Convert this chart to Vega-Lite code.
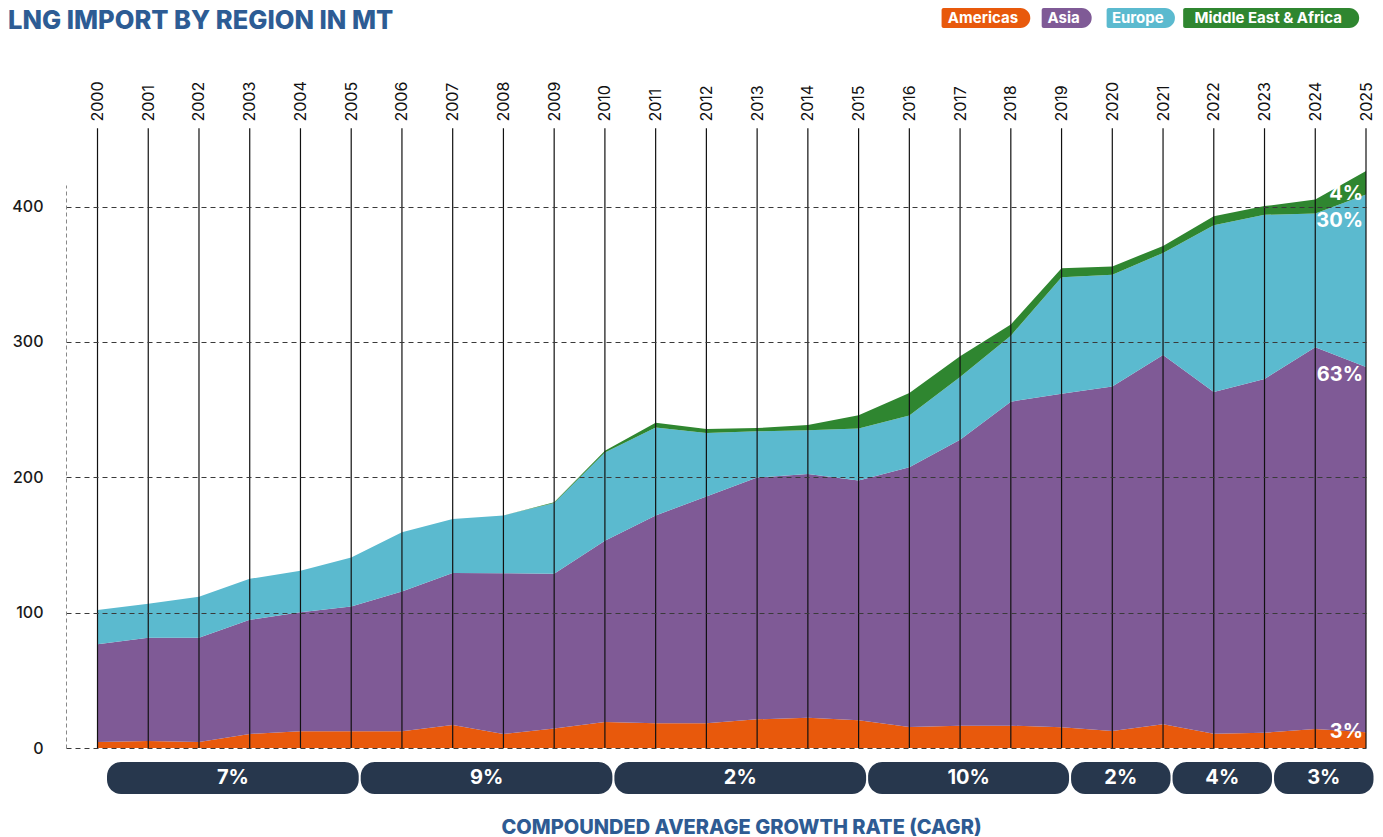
{
  "$schema": "https://vega.github.io/schema/vega-lite/v6.json",
  "background": "white",
  "padding": {"left": 8, "top": 8, "right": 10, "bottom": 0},
  "title": {"text": "LNG IMPORT BY REGION IN MT", "anchor": "start", "frame": "group", "font": "Inter", "fontSize": 25.5, "fontWeight": 800, "color": "#2D5C94", "dx": -58, "dy": 26, "offset": 0},
  "config": {"view": {"stroke": null}, "font": "Inter", "axis": {"labelFont": "Inter", "titleFont": "Inter"}, "text": {"font": "Inter"}},
  "datasets": {
    "lng": [
      {"year": 2000, "region": "Americas", "value": 4.5}, {"year": 2000, "region": "Asia", "value": 72.2}, {"year": 2000, "region": "Europe", "value": 25.3}, {"year": 2000, "region": "Middle East & Africa", "value": 0},
      {"year": 2001, "region": "Americas", "value": 5.2}, {"year": 2001, "region": "Asia", "value": 76.2}, {"year": 2001, "region": "Europe", "value": 25.1}, {"year": 2001, "region": "Middle East & Africa", "value": 0},
      {"year": 2002, "region": "Americas", "value": 4.5}, {"year": 2002, "region": "Asia", "value": 76.9}, {"year": 2002, "region": "Europe", "value": 30.3}, {"year": 2002, "region": "Middle East & Africa", "value": 0},
      {"year": 2003, "region": "Americas", "value": 10.4}, {"year": 2003, "region": "Asia", "value": 84.3}, {"year": 2003, "region": "Europe", "value": 30.3}, {"year": 2003, "region": "Middle East & Africa", "value": 0},
      {"year": 2004, "region": "Americas", "value": 12.3}, {"year": 2004, "region": "Asia", "value": 88.0}, {"year": 2004, "region": "Europe", "value": 30.7}, {"year": 2004, "region": "Middle East & Africa", "value": 0},
      {"year": 2005, "region": "Americas", "value": 12.3}, {"year": 2005, "region": "Asia", "value": 92.2}, {"year": 2005, "region": "Europe", "value": 36.2}, {"year": 2005, "region": "Middle East & Africa", "value": 0},
      {"year": 2006, "region": "Americas", "value": 12.3}, {"year": 2006, "region": "Asia", "value": 103.3}, {"year": 2006, "region": "Europe", "value": 43.9}, {"year": 2006, "region": "Middle East & Africa", "value": 0},
      {"year": 2007, "region": "Americas", "value": 17.0}, {"year": 2007, "region": "Asia", "value": 112.4}, {"year": 2007, "region": "Europe", "value": 39.9}, {"year": 2007, "region": "Middle East & Africa", "value": 0},
      {"year": 2008, "region": "Americas", "value": 10.4}, {"year": 2008, "region": "Asia", "value": 118.8}, {"year": 2008, "region": "Europe", "value": 42.6}, {"year": 2008, "region": "Middle East & Africa", "value": 0},
      {"year": 2009, "region": "Americas", "value": 14.5}, {"year": 2009, "region": "Asia", "value": 114.2}, {"year": 2009, "region": "Europe", "value": 52.3}, {"year": 2009, "region": "Middle East & Africa", "value": 0.5},
      {"year": 2010, "region": "Americas", "value": 19.3}, {"year": 2010, "region": "Asia", "value": 133.9}, {"year": 2010, "region": "Europe", "value": 65.2}, {"year": 2010, "region": "Middle East & Africa", "value": 1.3},
      {"year": 2011, "region": "Americas", "value": 18.2}, {"year": 2011, "region": "Asia", "value": 153.6}, {"year": 2011, "region": "Europe", "value": 65.1}, {"year": 2011, "region": "Middle East & Africa", "value": 3.5},
      {"year": 2012, "region": "Americas", "value": 18.2}, {"year": 2012, "region": "Asia", "value": 167.7}, {"year": 2012, "region": "Europe", "value": 46.8}, {"year": 2012, "region": "Middle East & Africa", "value": 3.0},
      {"year": 2013, "region": "Americas", "value": 21.2}, {"year": 2013, "region": "Asia", "value": 178.7}, {"year": 2013, "region": "Europe", "value": 34.1}, {"year": 2013, "region": "Middle East & Africa", "value": 2.4},
      {"year": 2014, "region": "Americas", "value": 22.4}, {"year": 2014, "region": "Asia", "value": 180.0}, {"year": 2014, "region": "Europe", "value": 32.3}, {"year": 2014, "region": "Middle East & Africa", "value": 3.9},
      {"year": 2015, "region": "Americas", "value": 20.5}, {"year": 2015, "region": "Asia", "value": 177.2}, {"year": 2015, "region": "Europe", "value": 38.3}, {"year": 2015, "region": "Middle East & Africa", "value": 9.8},
      {"year": 2016, "region": "Americas", "value": 15.5}, {"year": 2016, "region": "Asia", "value": 192.0}, {"year": 2016, "region": "Europe", "value": 38.2}, {"year": 2016, "region": "Middle East & Africa", "value": 16.6},
      {"year": 2017, "region": "Americas", "value": 16.5}, {"year": 2017, "region": "Asia", "value": 211.3}, {"year": 2017, "region": "Europe", "value": 46.3}, {"year": 2017, "region": "Middle East & Africa", "value": 15.3},
      {"year": 2018, "region": "Americas", "value": 16.5}, {"year": 2018, "region": "Asia", "value": 239.4}, {"year": 2018, "region": "Europe", "value": 48.8}, {"year": 2018, "region": "Middle East & Africa", "value": 8.2},
      {"year": 2019, "region": "Americas", "value": 15.3}, {"year": 2019, "region": "Asia", "value": 246.5}, {"year": 2019, "region": "Europe", "value": 86.1}, {"year": 2019, "region": "Middle East & Africa", "value": 6.6},
      {"year": 2020, "region": "Americas", "value": 12.6}, {"year": 2020, "region": "Asia", "value": 254.6}, {"year": 2020, "region": "Europe", "value": 82.4}, {"year": 2020, "region": "Middle East & Africa", "value": 6.2},
      {"year": 2021, "region": "Americas", "value": 17.5}, {"year": 2021, "region": "Asia", "value": 272.9}, {"year": 2021, "region": "Europe", "value": 75.4}, {"year": 2021, "region": "Middle East & Africa", "value": 5.2},
      {"year": 2022, "region": "Americas", "value": 10.6}, {"year": 2022, "region": "Asia", "value": 252.5}, {"year": 2022, "region": "Europe", "value": 123.2}, {"year": 2022, "region": "Middle East & Africa", "value": 6.7},
      {"year": 2023, "region": "Americas", "value": 11.3}, {"year": 2023, "region": "Asia", "value": 261.4}, {"year": 2023, "region": "Europe", "value": 121.3}, {"year": 2023, "region": "Middle East & Africa", "value": 6.4},
      {"year": 2024, "region": "Americas", "value": 14.0}, {"year": 2024, "region": "Asia", "value": 282.1}, {"year": 2024, "region": "Europe", "value": 98.9}, {"year": 2024, "region": "Middle East & Africa", "value": 10.3},
      {"year": 2025, "region": "Americas", "value": 11.6}, {"year": 2025, "region": "Asia", "value": 270.0}, {"year": 2025, "region": "Europe", "value": 127.4}, {"year": 2025, "region": "Middle East & Africa", "value": 17.3}
    ],
    "cagr": [
      {"start": 2000, "end": 2005, "cagr": "7%"},
      {"start": 2005, "end": 2010, "cagr": "9%"},
      {"start": 2010, "end": 2015, "cagr": "2%"},
      {"start": 2015, "end": 2019, "cagr": "10%"},
      {"start": 2019, "end": 2021, "cagr": "2%"},
      {"start": 2021, "end": 2023, "cagr": "4%"},
      {"start": 2023, "end": 2025, "cagr": "3%"}
    ],
    "legend": [
      {"region": "Americas", "order": 1},
      {"region": "Asia", "order": 2},
      {"region": "Europe", "order": 3},
      {"region": "Middle East & Africa", "order": 4}
    ]
  },
  "bounds": "flush",
  "spacing": 157,
  "vconcat": [
    {
      "width": 1300,
      "height": 20,
      "data": {"name": "legend"},
      "layer": [
        {
          "mark": {"type": "bar", "orient": "vertical", "cornerRadiusTopRight": 10, "cornerRadiusBottomRight": 10, "cornerRadiusTopLeft": 2, "cornerRadiusBottomLeft": 2},
          "encoding": {
            "x": {"field": "order", "type": "quantitative", "scale": {"domain": [1, 2, 3, 4], "range": [915.7, 1000.7, 1074.8, 1212], "nice": false, "zero": false}, "axis": null},
            "size": {"field": "order", "type": "quantitative", "scale": {"domain": [1, 2, 3, 4], "range": [88.7, 50, 68.3, 176], "zero": false}, "legend": null},
            "y": {"datum": 0, "type": "quantitative", "scale": {"domain": [0, 1]}, "axis": null},
            "y2": {"datum": 1},
            "color": {"field": "region", "type": "nominal", "scale": {"domain": ["Americas", "Asia", "Europe", "Middle East & Africa"], "range": ["#E8590C", "#7F5A96", "#5BBACF", "#2F8630"]}, "legend": null}
          }
        },
        {
          "mark": {"type": "text", "color": "white", "fontSize": 15, "fontWeight": 700, "align": "center", "baseline": "middle", "dx": -3},
          "encoding": {
            "x": {"field": "order", "type": "quantitative", "scale": {"domain": [1, 2, 3, 4], "range": [915.7, 1000.7, 1074.8, 1212], "nice": false, "zero": false}, "axis": null},
            "y": {"datum": 0.5, "type": "quantitative", "scale": {"domain": [0, 1]}, "axis": null},
            "text": {"field": "region", "type": "nominal"}
          }
        }
      ]
    },
    {
      "bounds": "flush",
      "spacing": 14,
      "vconcat": [
        {
          "width": 1300,
          "height": 563,
          "resolve": {"axis": {"x": "independent", "y": "independent"}},
          "layer": [
            {
              "data": {"name": "lng"},
              "mark": {"type": "area", "interpolate": "linear"},
              "encoding": {
                "x": {"field": "year", "type": "quantitative", "scale": {"domain": [1999.379, 2025], "nice": false, "zero": false},
                  "axis": {"orient": "top", "values": [2000, 2001, 2002, 2003, 2004, 2005, 2006, 2007, 2008, 2009, 2010, 2011, 2012, 2013, 2014, 2015, 2016, 2017, 2018, 2019, 2020, 2021, 2022, 2023, 2024, 2025], "format": "d", "labelAngle": -90, "ticks": false, "tickSize": 0, "domain": false, "grid": false, "labelPadding": 64, "labelFontSize": 16, "labelColor": "#111111", "labelFlush": false, "labelOverlap": false, "title": null}},
                "y": {"field": "value", "type": "quantitative", "stack": "zero", "scale": {"domain": [0, 416], "nice": false, "zero": false},
                  "axis": {"values": [0, 100, 200, 300, 400], "title": null, "ticks": false, "tickSize": 0, "labelPadding": 23, "labelFontSize": 16, "labelFontWeight": 500, "labelColor": "#1A1A1A", "domain": true, "domainDash": [4, 3], "domainColor": "#888888", "domainWidth": 1, "grid": true, "gridDash": [5, 4], "gridColor": "#3A3A3A", "gridWidth": 1, "zindex": 1}},
                "color": {"field": "region", "type": "nominal", "scale": {"domain": ["Americas", "Asia", "Europe", "Middle East & Africa"], "range": ["#E8590C", "#7F5A96", "#5BBACF", "#2F8630"]}, "legend": null},
                "order": {"field": "region", "sort": "ascending"}
              }
            },
            {
              "data": {"name": "lng"},
              "transform": [{"filter": "datum.region === 'Asia'"}],
              "mark": {"type": "rule", "color": "#111111", "strokeWidth": 1.2, "clip": false},
              "encoding": {
                "x": {"field": "year", "type": "quantitative", "scale": {"domain": [1999.379, 2025], "nice": false, "zero": false}, "axis": null},
                "y": {"datum": 0, "type": "quantitative", "scale": {"domain": [0, 416], "nice": false, "zero": false}, "axis": null},
                "y2": {"datum": 458}
              }
            },
            {
              "mark": {"type": "rule", "color": "#222222", "strokeWidth": 1.5},
              "encoding": {
                "y": {"datum": 0, "type": "quantitative", "scale": {"domain": [0, 416], "nice": false, "zero": false}, "axis": null}
              }
            },
            {
              "data": {"name": "lng"},
              "transform": [
                {"joinaggregate": [{"op": "sum", "field": "value", "as": "total"}], "groupby": ["year"]},
                {"stack": "value", "groupby": ["year"], "sort": [{"field": "region", "order": "ascending"}], "as": ["v0", "v1"]},
                {"filter": "datum.year === 2025"},
                {"calculate": "format(datum.value / datum.total, '.0%')", "as": "pct"}
              ],
              "resolve": {"axis": {"x": "independent", "y": "independent"}},
              "layer": [
                {
                  "transform": [{"filter": "datum.region === 'Middle East & Africa'"}],
                  "mark": {"type": "text", "color": "white", "fontSize": 20, "fontWeight": 700, "align": "right", "baseline": "middle", "dx": -3, "dy": -0.5},
                  "encoding": {
                    "x": {"field": "year", "type": "quantitative", "scale": {"domain": [1999.379, 2025], "nice": false, "zero": false}, "axis": null},
                    "y": {"field": "v0", "type": "quantitative", "scale": {"domain": [0, 416], "nice": false, "zero": false}, "axis": null},
                    "text": {"field": "pct", "type": "nominal"}
                  }
                },
                {
                  "transform": [{"filter": "datum.region === 'Europe'"}],
                  "mark": {"type": "text", "color": "white", "fontSize": 20, "fontWeight": 700, "align": "right", "baseline": "middle", "dx": -3, "dy": 27},
                  "encoding": {
                    "x": {"field": "year", "type": "quantitative", "scale": {"domain": [1999.379, 2025], "nice": false, "zero": false}, "axis": null},
                    "y": {"field": "v1", "type": "quantitative", "scale": {"domain": [0, 416], "nice": false, "zero": false}, "axis": null},
                    "text": {"field": "pct", "type": "nominal"}
                  }
                },
                {
                  "transform": [{"filter": "datum.region === 'Asia'"}],
                  "mark": {"type": "text", "color": "white", "fontSize": 20, "fontWeight": 700, "align": "right", "baseline": "middle", "dx": -3, "dy": 8},
                  "encoding": {
                    "x": {"field": "year", "type": "quantitative", "scale": {"domain": [1999.379, 2025], "nice": false, "zero": false}, "axis": null},
                    "y": {"field": "v1", "type": "quantitative", "scale": {"domain": [0, 416], "nice": false, "zero": false}, "axis": null},
                    "text": {"field": "pct", "type": "nominal"}
                  }
                },
                {
                  "transform": [{"filter": "datum.region === 'Americas'"}],
                  "mark": {"type": "text", "color": "white", "fontSize": 20, "fontWeight": 700, "align": "right", "baseline": "middle", "dx": -3, "dy": 0},
                  "encoding": {
                    "x": {"field": "year", "type": "quantitative", "scale": {"domain": [1999.379, 2025], "nice": false, "zero": false}, "axis": null},
                    "y": {"field": "v1", "type": "quantitative", "scale": {"domain": [0, 416], "nice": false, "zero": false}, "axis": null},
                    "text": {"field": "pct", "type": "nominal"}
                  }
                }
              ]
            }
          ]
        },
        {
          "width": 1300,
          "height": 32,
          "data": {"name": "cagr"},
          "resolve": {"axis": {"x": "independent", "y": "independent"}},
          "layer": [
            {
              "mark": {"type": "bar", "color": "#27374D", "cornerRadius": 14, "xOffset": 9.5, "x2Offset": 7.5},
              "encoding": {
                "x": {"field": "start", "type": "quantitative", "scale": {"domain": [1999.379, 2025], "nice": false, "zero": false},
                  "axis": {"orient": "bottom", "domain": false, "ticks": false, "labels": false, "grid": false, "title": "COMPOUNDED AVERAGE GROWTH RATE (CAGR)", "titleX": 675, "titleY": 39, "titleAlign": "center", "titleBaseline": "alphabetic", "titleFontSize": 20, "titleFontWeight": 800, "titleColor": "#2E5B93"}},
                "x2": {"field": "end"},
                "y": {"datum": 0, "type": "quantitative", "scale": {"domain": [0, 1]}, "axis": null},
                "y2": {"datum": 1}
              }
            },
            {
              "transform": [{"calculate": "(datum.start + datum.end) / 2", "as": "mid"}],
              "mark": {"type": "text", "color": "white", "fontSize": 20, "fontWeight": 700, "align": "center", "baseline": "middle", "dx": 8.5},
              "encoding": {
                "x": {"field": "mid", "type": "quantitative", "scale": {"domain": [1999.379, 2025], "nice": false, "zero": false}, "axis": null},
                "y": {"datum": 0.5, "type": "quantitative", "scale": {"domain": [0, 1]}, "axis": null},
                "text": {"field": "cagr", "type": "nominal"}
              }
            }
          ]
        }
      ]
    }
  ]
}
